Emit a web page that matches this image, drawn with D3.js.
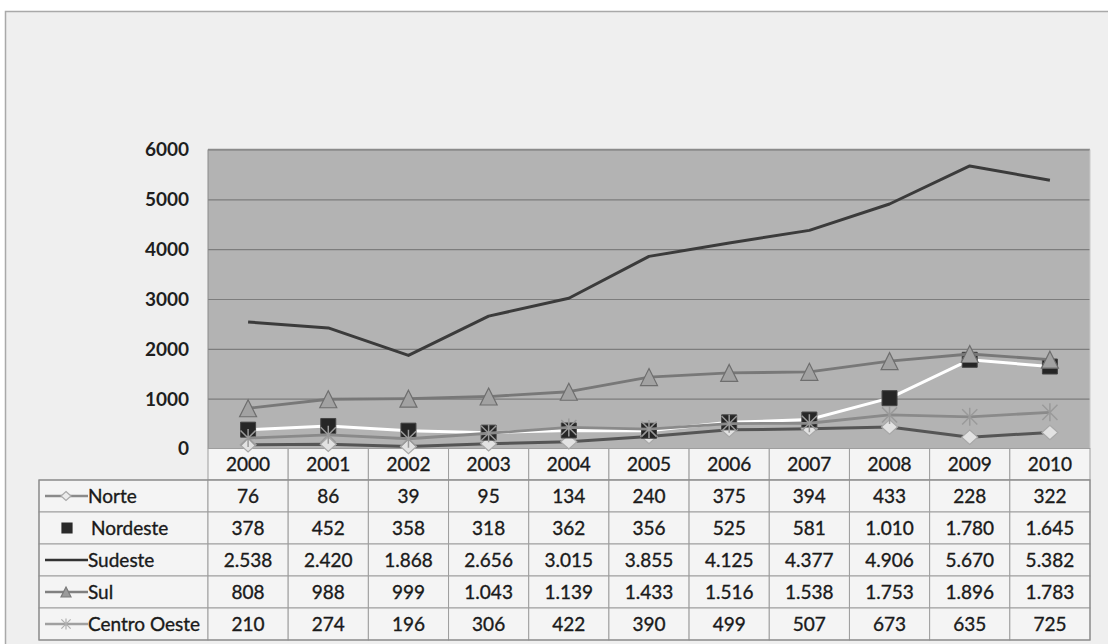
<!DOCTYPE html>
<html><head><meta charset="utf-8">
<script src="https://cdn.jsdelivr.net/npm/d3@7"></script>
<style>body{margin:0;background:#fff}svg{display:block}</style>
</head><body><svg id="c" width="1108" height="644"></svg>
<script>
// ---- data ----
const years = [2000,2001,2002,2003,2004,2005,2006,2007,2008,2009,2010];
const norte = [76,86,39,95,134,240,375,394,433,228,322];
const nordeste = [378,452,358,318,362,356,525,581,1010,1780,1645];
const sudeste = [2538,2420,1868,2656,3015,3855,4125,4377,4906,5670,5382];
const sul = [808,988,999,1043,1139,1433,1516,1538,1753,1896,1783];
const centroOeste = [210,274,196,306,422,390,499,507,673,635,725];
const seriesNames = ["Norte","Nordeste","Sudeste","Sul","Centro Oeste"];
const yTicks = [0,1000,2000,3000,4000,5000,6000];

// ---- layout ----
const L = 208, R = 1090, T = 149.5, B = 448.5;
const headerH = 31.5, rowH = 32, legL = 39;
const FONT = "Lato, 'Open Sans', sans-serif";
const FS = 19;

const svg = d3.select("#c");
svg.append("rect").attr("x",5.5).attr("y",11.5).attr("width",1110).attr("height",650)
  .attr("fill","#efefef").attr("stroke","#a9a9a9").attr("stroke-width",1.5);

const x = d3.scaleBand().domain(years).range([L,R]).padding(0);
const y = d3.scaleLinear().domain([0,6000]).range([B,T]);
const cx = d => x(d) + x.bandwidth()/2;

// plot area
svg.append("rect").attr("x",L).attr("y",T).attr("width",R-L).attr("height",B-T)
  .attr("fill","#b3b3b3");
const yAxis = d3.axisLeft(y).tickValues(yTicks).tickSize(-(R-L)).tickFormat(d3.format("d"));
const ga = svg.append("g").attr("transform",`translate(${L},0)`).call(yAxis);
ga.select(".domain").remove();
ga.selectAll(".tick line").attr("stroke","#7d7d7d").attr("stroke-width",1.2);
ga.selectAll(".tick text").attr("x",-19).attr("dy","0.34em").attr("font-family",FONT).attr("font-weight","bold")
  .attr("font-size",FS).attr("fill","#1e1e1e");
svg.append("line").attr("x1",L).attr("x2",R).attr("y1",T).attr("y2",T).attr("stroke","#8a8a8a").attr("stroke-width",1.5);
svg.append("line").attr("x1",L).attr("x2",L).attr("y1",T).attr("y2",B).attr("stroke","#8a8a8a").attr("stroke-width",1);
svg.append("line").attr("x1",R).attr("x2",R).attr("y1",T).attr("y2",B).attr("stroke","#c8c8c8").attr("stroke-width",1);

// ---- table ----
const fmt = d3.formatLocale({decimal:",",thousands:".",grouping:[3],currency:["R$",""]}).format(",d");
const allSeries = [norte,nordeste,sudeste,sul,centroOeste];
const tbl = svg.append("g");
const cellStroke = "#9e9e9e";
const txt = sel => sel.attr("font-family",FONT).attr("font-size",FS).attr("fill","#1a1a1a")
  .attr("stroke","#1a1a1a").attr("stroke-width",0.35);
// header cells
tbl.selectAll("rect.h").data(years).join("rect")
  .attr("x",d=>x(d)).attr("y",B).attr("width",x.bandwidth()).attr("height",headerH)
  .attr("fill","#f4f4f4").attr("stroke",cellStroke);
tbl.selectAll("text.h").data(years).join("text")
  .attr("x",d=>cx(d)).attr("y",B+headerH/2+7).attr("text-anchor","middle")
  .call(txt).text(d=>d);
// rows
allSeries.forEach((vals,i)=>{
  const ry = B+headerH+i*rowH;
  tbl.append("rect").attr("x",legL).attr("y",ry).attr("width",L-legL).attr("height",rowH)
    .attr("fill","#f4f4f4").attr("stroke",cellStroke);
  tbl.append("text").attr("x",legL+49).attr("y",ry+rowH/2+7)
    .call(txt).attr("dx", i===1 ? 3 : 0).text(seriesNames[i]);
  tbl.selectAll(null).data(years).join("rect")
    .attr("x",d=>x(d)).attr("y",ry).attr("width",x.bandwidth()).attr("height",rowH)
    .attr("fill","#f4f4f4").attr("stroke",cellStroke);
  tbl.selectAll(null).data(vals).join("text")
    .attr("x",(d,j)=>cx(years[j])).attr("y",ry+rowH/2+7).attr("text-anchor","middle")
    .call(txt).text(d=>fmt(d));
});
tbl.append("rect").attr("x",legL).attr("y",B+headerH).attr("width",R-legL).attr("height",5*rowH)
  .attr("fill","none").attr("stroke","#8c8c8c").attr("stroke-width",1.2);

// ---- markers ----
const diamond = s => `M0,${-s*0.45}L${s/2},0L0,${s*0.45}L${-s/2},0Z`;
const square = s => `M${-s/2},${-s/2}h${s}v${s}h${-s}Z`;
const tri = s => `M0,${-s/2}L${s/2},${s/2}L${-s/2},${s/2}Z`;
const star = s => { const h=s/2, d=s*0.42; return `M0,${-h}V${h}M${-d},${-d}L${d},${d}M${d},${-d}L${-d},${d}`; };

const styles = [
  {line:"#555555", w:3, mk:diamond, ms:16, fill:"#e2e2e2", stroke:"#a8a8a8", sw:1.2},
  {line:"#ffffff", w:3, mk:square, ms:15, fill:"#262626", stroke:"#444", sw:1},
  {line:"#3b3b3b", w:3, mk:null},
  {line:"#787878", w:2.8, mk:tri, ms:17, fill:"#a2a2a2", stroke:"#6e6e6e", sw:1.2},
  {line:"#8a8a8a", w:2.8, mk:star, ms:18, fill:"none", stroke:"#9a9a9a", sw:1.5}
];

const lineGen = d3.line().x((d,j)=>cx(years[j])).y(d=>y(d));
const plotG = svg.append("g");
allSeries.forEach((vals,i)=>{
  const st = styles[i];
  plotG.append("path").datum(vals).attr("d",lineGen).attr("fill","none")
    .attr("stroke",st.line).attr("stroke-width",st.w).attr("stroke-linejoin","round");
  if (st.mk) {
    plotG.selectAll(null).data(vals).join("path")
      .attr("transform",(d,j)=>`translate(${cx(years[j])},${y(d)})`)
      .attr("d",st.mk(st.ms)).attr("fill",st.fill).attr("stroke",st.stroke).attr("stroke-width",st.sw);
  }
});

// ---- legend keys ----
const legStyles = [
  {line:"#8a8a8a", w:2.5, mk:diamond, ms:10, fill:"#ececec", stroke:"#aaa"},
  {line:null, mk:square, ms:10, fill:"#2a2a2a", stroke:"#2a2a2a"},
  {line:"#333", w:2.5, mk:null},
  {line:"#808080", w:2.5, mk:tri, ms:10, fill:"#9a9a9a", stroke:"#7a7a7a"},
  {line:"#a0a0a0", w:2.5, mk:star, ms:11, fill:"none", stroke:"#b0b0b0"}
];
legStyles.forEach((st,i)=>{
  const cy = B+headerH+i*rowH+rowH/2;
  if (st.line) svg.append("line").attr("x1",legL+6).attr("x2",legL+49).attr("y1",cy).attr("y2",cy)
    .attr("stroke",st.line).attr("stroke-width",st.w);
  if (st.mk) svg.append("path").attr("transform",`translate(${legL+(i===1?28:27)},${cy})`)
    .attr("d",st.mk(st.ms)).attr("fill",st.fill).attr("stroke",st.stroke).attr("stroke-width",1.2);
});
</script></body></html>
